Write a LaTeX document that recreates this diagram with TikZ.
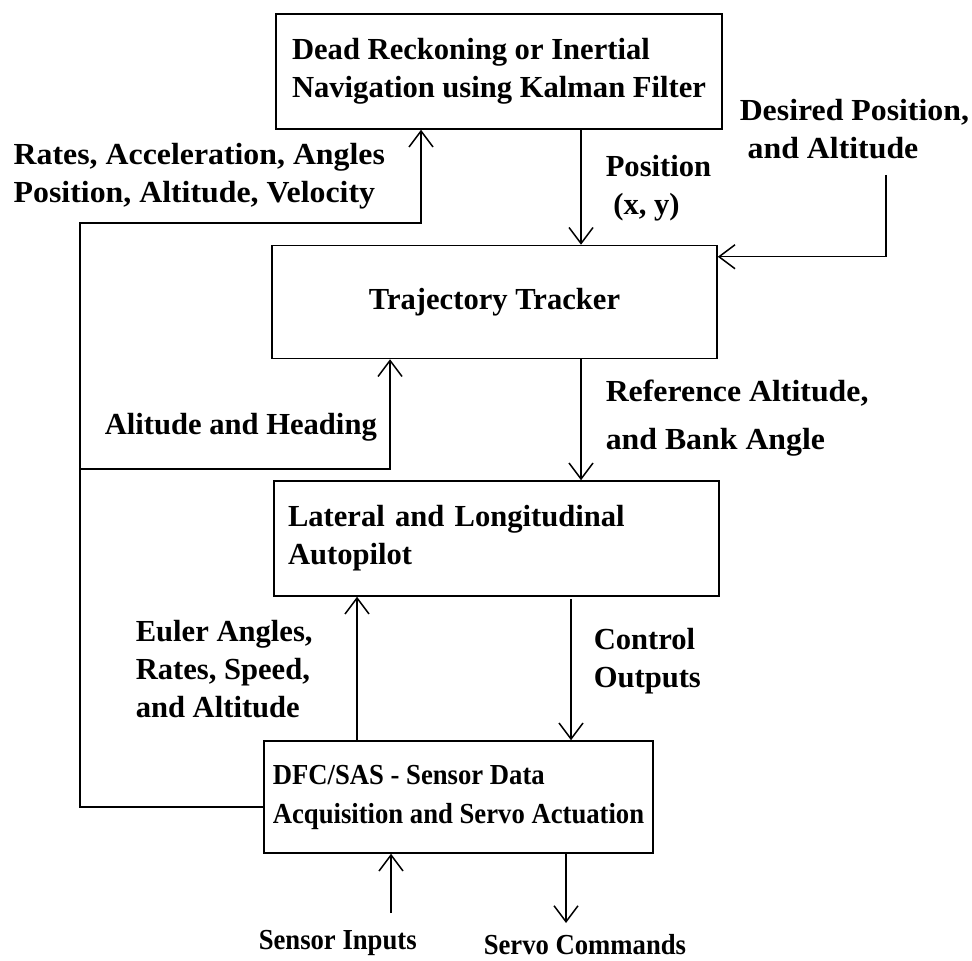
\documentclass[tikz,border=0pt]{standalone}
\usepackage{fontspec}
\setmainfont{Liberation Serif}
\newfontfamily\narrowfont[FakeStretch=0.92]{Liberation Serif}
\newfontfamily\widefont[FakeStretch=1.04]{Liberation Serif}
\usepackage{tikz}
\usetikzlibrary{positioning, arrows.meta}

\begin{document}
\begin{tikzpicture}[x=0.5pt, y=-0.5pt, line width=0.75pt,
  >={Straight Barb[length=8pt,width=12pt]},
  font=\fontsize{15.3}{19}\selectfont\bfseries,
  block/.style={draw, rectangle, inner sep=0pt, align=left},
  lbl/.style={anchor=north west, inner sep=0pt, align=left},
  narrow/.style={font=\fontsize{14.5}{19.5}\narrowfont\bfseries},
  wide/.style={font=\fontsize{15.3}{19}\widefont\bfseries}]
\useasboundingbox (0,0) rectangle (972,961);
% blocks
\node[block, minimum width=223pt, minimum height=57.5pt] (dr) at (499,71.5)
  {Dead Reckoning or Inertial\\Navigation using Kalman Filter};
\node[block, minimum width=222.5pt, minimum height=56.5pt] (tt) at (494.5,302)
  {Trajectory Tracker};
\node[block, minimum width=222.5pt, minimum height=57.5pt, text width=208.5pt] (ll) at (496.5,538.5)
  {Lateral and Longitudinal\\Autopilot};
\node[block, narrow, minimum width=194.5pt, minimum height=56pt] (dfc) at (458.5,797)
  {DFC/SAS - Sensor Data\\Acquisition and Servo Actuation};
% signal labels
\node[lbl, wide] (lrates) at (13,143) {Rates, Acceleration, Angles\\Position, Altitude, Velocity};
\node[lbl, wide] (ldes) at (739,99) {Desired Position,\\~and Altitude};
\node[lbl] (lpos) at (605,155) {Position\\~(x, y)};
\node[lbl] (lah) at (104,413) {Alitude and Heading};
\node[lbl, wide] (lref) at (605,379) {Reference Altitude,\\[5pt]and Bank Angle};
\node[lbl] (leul) at (135,620) {Euler Angles,\\Rates, Speed,\\and Altitude};
\node[lbl] (lctl) at (593,628) {Control\\Outputs};
\node[lbl, narrow] (lsens) at (258,930) {Sensor Inputs};
\node[lbl, narrow] (lservo) at (483,934) {Servo Commands};
% line positions
\coordinate (xpos) at (581,0);
\coordinate (xfb) at (421,0);
\coordinate (xah) at (390,0);
\coordinate (xeu) at (357,0);
\coordinate (xco) at (571,0);
\coordinate (fb) at (80,223);
\coordinate (ah) at (80,469);
\coordinate (dp) at (886,175);
\coordinate (si) at (391,913);
\coordinate (sc) at (566,923);
% connectors
\draw[->] (dr.south -| xpos) -- (tt.north -| xpos);
\draw[->] (dp) |- ([yshift=-6pt]tt.north east);
\draw[->] (tt.south -| xpos) -- (ll.north -| xpos);
\draw[->] ([yshift=-5pt]dfc.west) -| (fb) -| (dr.south -| xfb);
\draw[->] (ah) -| (tt.south -| xah);
\draw[->] (dfc.north -| xeu) -- (ll.south -| xeu);
\draw[->] ([yshift=-1pt]ll.south -| xco) -- (dfc.north -| xco);
\draw[->] (si) -- (dfc.south -| si);
\draw[->] (dfc.south -| sc) -- (sc);
\end{tikzpicture}
\end{document}
